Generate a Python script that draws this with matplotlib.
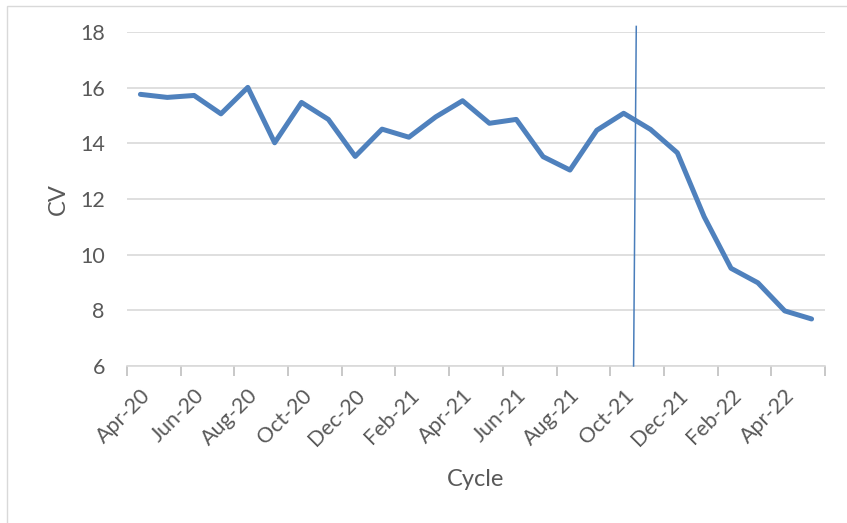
import matplotlib
matplotlib.use("Agg")
import matplotlib.pyplot as plt
from matplotlib.patches import Rectangle
from matplotlib.ticker import FixedLocator

months = ["Apr-20", "May-20", "Jun-20", "Jul-20", "Aug-20", "Sep-20", "Oct-20", "Nov-20",
          "Dec-20", "Jan-21", "Feb-21", "Mar-21", "Apr-21", "May-21", "Jun-21", "Jul-21",
          "Aug-21", "Sep-21", "Oct-21", "Nov-21", "Dec-21", "Jan-22", "Feb-22", "Mar-22",
          "Apr-22", "May-22"]
cv = [15.76, 15.65, 15.72, 15.06, 16.01, 14.02, 15.47, 14.86, 13.53, 14.51, 14.22, 14.95,
      15.53, 14.72, 14.86, 13.52, 13.04, 14.47, 15.08, 14.50, 13.66, 11.36, 9.51, 8.99,
      7.98, 7.69]
yticks = [6, 8, 10, 12, 14, 16, 18]
# reference (vertical) line: x positions in category units, y extent
ref_x = [18.47, 18.37]
ref_y = [18.2, 6.0]

plt.rcParams['font.family'] = ['Lato', 'DejaVu Sans']

fig = plt.figure(figsize=(8.47, 5.23), dpi=100)
ax = fig.add_axes([127/847, 1-366/523, (825-127)/847, (366-32)/523])

x = list(range(len(months)))
ax.plot(x, cv, color='#4F81BD', lw=3.6, solid_joinstyle='round', solid_capstyle='round', zorder=3)
ax.plot(ref_x, ref_y, color='#4A7EBB', lw=1.1, zorder=4, clip_on=False)

ax.set_xlim(-0.5, len(months) - 0.5)
ax.set_ylim(6, 18)
ax.set_yticks(yticks)
ax.yaxis.grid(True, color='#D9D9D9', lw=1.2)
ax.set_axisbelow(True)

ax.set_xticks(x[::2])
ax.set_xticklabels(months[::2], rotation=45, ha='right', rotation_mode='anchor',
                   fontsize=15.5, color='#595959')
ax.xaxis.set_minor_locator(FixedLocator([i - 0.5 for i in range(0, len(months) + 1, 2)]))
ax.tick_params(axis='x', which='major', length=0, pad=14)
ax.tick_params(axis='x', which='minor', length=7, color='#BFBFBF', width=1.2)
ax.tick_params(axis='y', length=0, pad=16, labelsize=15.5, labelcolor='#595959')

for s in ['left', 'right', 'top']:
    ax.spines[s].set_visible(False)
ax.spines['bottom'].set_color('#D9D9D9')
ax.spines['bottom'].set_linewidth(1.2)

ax.set_xlabel('Cycle', fontsize=17, color='#595959', labelpad=14)
ax.set_ylabel('CV', fontsize=17, color='#595959', labelpad=8)

fig.patches.append(Rectangle((6.5/847, -0.1), 1.2, 1.1 - 6.5/523, transform=fig.transFigure,
                             fill=False, edgecolor='#D9D9D9', lw=1.0))

fig.savefig('out.png', dpi=100)
